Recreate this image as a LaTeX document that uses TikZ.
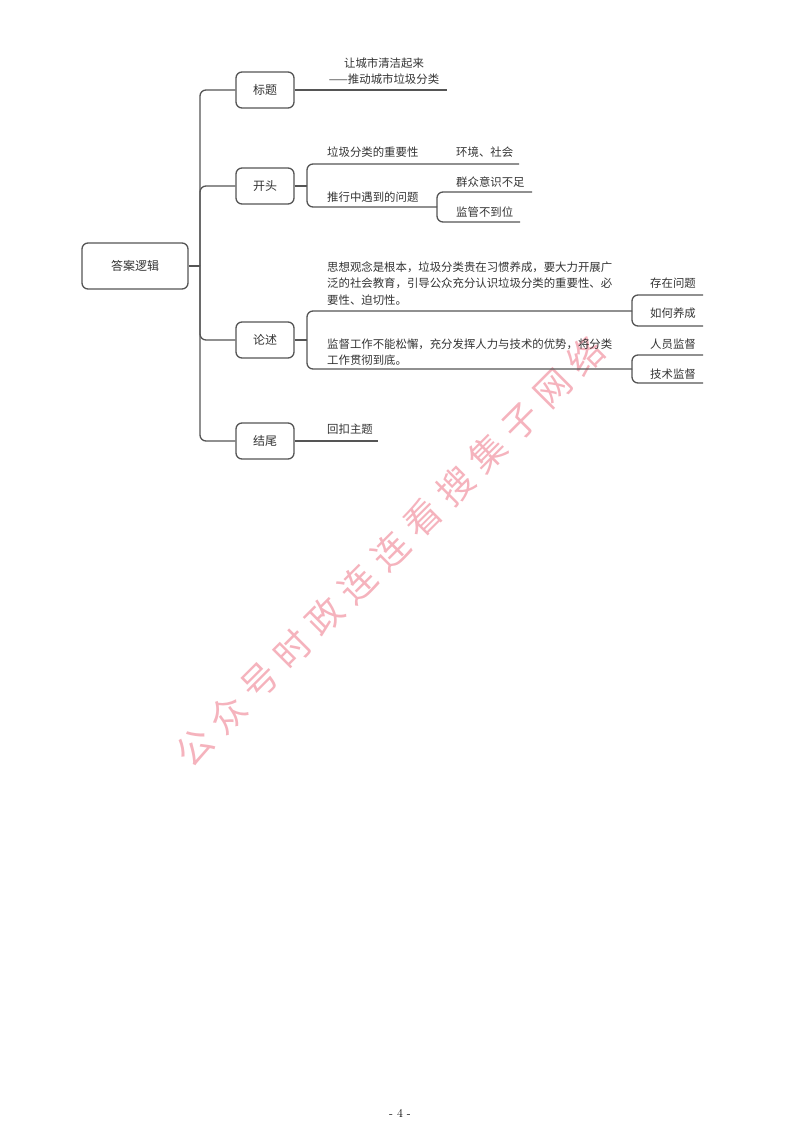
\documentclass[tikz,border=0pt]{standalone}
\usepackage{fontspec}
\newfontfamily\cjk{Noto Sans CJK SC}
\newfontfamily\wmfont[LetterSpace=28]{Noto Sans CJK SC}
\definecolor{linegray}{HTML}{555555}
\definecolor{textgray}{HTML}{333333}
\definecolor{wmpink}{HTML}{F5B3BD}
\tikzset{
  box/.style = {draw=linegray, line width=1.3pt, rounded corners=6pt, minimum width=58pt, minimum height=36pt, font=\cjk\fontsize{12}{14}\selectfont, text=textgray},
  rootbox/.style = {box, minimum width=106pt, minimum height=46pt},
  link/.style = {draw=linegray, line width=1.3pt, rounded corners=6pt},
  topic/.style = {anchor=west, inner sep=0pt, align=left, text=textgray, font=\cjk\fontsize{11.4}{16.5}\selectfont}
}
\begin{document}
\begin{tikzpicture}[x=1pt, y=-1pt]
    \useasboundingbox (0,0) rectangle (800,1131);
    \node[rotate=45, text=wmpink, font=\wmfont\fontsize{36}{40}\selectfont] (mark) at (390,551) {公众号时政连连看搜集子网络};
    \node[rootbox] (root) at (135,266) {答案逻辑};
    \node[box] (title) at (265,90) {标题};
    \node[box] (kaitou) at (265,186) {开头};
    \node[box] (lunshu) at (265,340) {论述};
    \node[box] (jiewei) at (265,441) {结尾};
    \coordinate (hub) at (200,266);
    \draw[link] (root.east) -- (hub);
    \draw[link] (hub) |- (title.west);
    \draw[link] (hub) |- (kaitou.west);
    \draw[link] (hub) |- (lunshu.west);
    \draw[link] (hub) |- (jiewei.west);
    % title
    \coordinate (titleend) at (447,90);
    \draw[link] (title.east) -- (titleend);
    \node[topic, anchor=center, align=center] (titletext) at (384,71) {让城市清洁起来\\——推动城市垃圾分类};
    % opening
    \coordinate (kbr) at (307,186);
    \coordinate (impend) at (420,164);
    \coordinate (envend) at (519,164);
    \coordinate (pbr) at (437,207);
    \coordinate (massend) at (532,192);
    \coordinate (supend) at (520,222);
    \draw[link] (kaitou.east) -- (kbr);
    \draw[link] (kbr) |- (impend) -- (envend);
    \draw[link] (kbr) |- (pbr);
    \draw[link] (pbr) |- (massend);
    \draw[link] (pbr) |- (supend);
    \node[topic] (imp) at (327,152) {垃圾分类的重要性};
    \node[topic] (env) at (456,152) {环境、社会};
    \node[topic] (pro) at (327,197) {推行中遇到的问题};
    \node[topic] (mass) at (456,182) {群众意识不足};
    \node[topic] (sup) at (456,212) {监管不到位};
    % argument
    \coordinate (lbr) at (307,340);
    \coordinate (ibr) at (632,311);
    \coordinate (sbr) at (632,369);
    \coordinate (existend) at (703,295);
    \coordinate (howend) at (703,326);
    \coordinate (staffend) at (703,355);
    \coordinate (techend) at (703,383);
    \draw[link] (lunshu.east) -- (lbr);
    \draw[link] (lbr) |- (ibr);
    \draw[link] (lbr) |- (sbr);
    \draw[link] (ibr) |- (existend);
    \draw[link] (ibr) |- (howend);
    \draw[link] (sbr) |- (staffend);
    \draw[link] (sbr) |- (techend);
    \node[topic] (idea) at (327,283.5) {思想观念是根本，垃圾分类贵在习惯养成，要大力开展广\\泛的社会教育，引导公众充分认识垃圾分类的重要性、必\\要性、迫切性。};
    \node[topic] (exist) at (650,283) {存在问题};
    \node[topic] (how) at (650,313) {如何养成};
    \node[topic] (watch) at (327,352) {监督工作不能松懈，充分发挥人力与技术的优势，将分类\\工作贯彻到底。};
    \node[topic] (staff) at (650,344) {人员监督};
    \node[topic] (tech) at (650,374) {技术监督};
    % ending
    \coordinate (endline) at (378,441);
    \draw[link] (jiewei.east) -- (endline);
    \node[topic] (echo) at (327,429) {回扣主题};
    \node[font=\fontsize{12}{14}\selectfont] (page) at (400,1113) {- 4 -};
\end{tikzpicture}
\end{document}
